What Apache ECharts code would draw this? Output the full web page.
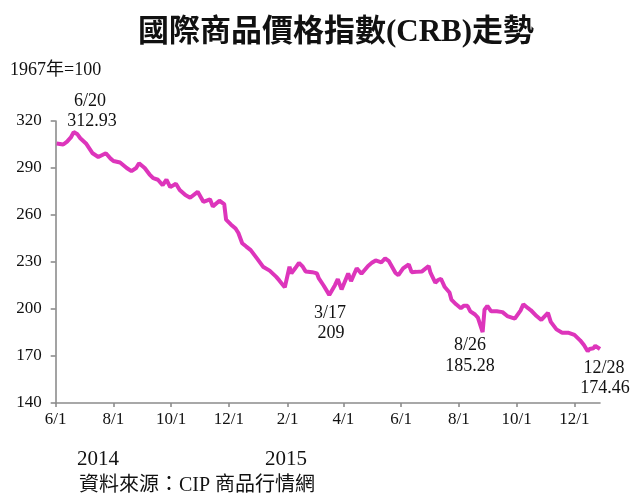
<!DOCTYPE html>
<html>
<head>
<meta charset="utf-8">
<script src="https://cdn.jsdelivr.net/npm/echarts@6/dist/echarts.min.js"></script>
<style>
  html, body { margin: 0; padding: 0; background: #fff; }
  #chart { width: 632px; height: 498px; }
</style>
</head>
<body>
<div id="chart"></div>
<script>
// CRB index (approximate)
const dates = [
  '2014-06-02', '2014-06-09', '2014-06-13', '2014-06-17', '2014-06-20', '2014-06-24',
  '2014-06-27', '2014-07-03', '2014-07-10', '2014-07-16', '2014-07-24', '2014-07-29',
  '2014-08-01', '2014-08-08', '2014-08-15', '2014-08-20', '2014-08-25', '2014-08-28',
  '2014-09-03', '2014-09-08', '2014-09-12', '2014-09-17', '2014-09-22', '2014-09-26',
  '2014-09-30', '2014-10-06', '2014-10-10', '2014-10-16', '2014-10-21', '2014-10-29',
  '2014-11-04', '2014-11-11', '2014-11-14', '2014-11-21', '2014-11-26', '2014-11-28',
  '2014-12-03', '2014-12-08', '2014-12-11', '2014-12-15', '2014-12-19', '2014-12-24',
  '2014-12-31', '2015-01-06', '2015-01-13', '2015-01-20', '2015-01-23', '2015-01-29',
  '2015-02-03', '2015-02-05', '2015-02-09', '2015-02-13', '2015-02-17', '2015-02-20',
  '2015-02-27', '2015-03-04', '2015-03-06', '2015-03-11', '2015-03-17', '2015-03-23',
  '2015-03-26', '2015-03-30', '2015-04-06', '2015-04-09', '2015-04-15', '2015-04-20',
  '2015-04-27', '2015-05-01', '2015-05-05', '2015-05-11', '2015-05-15', '2015-05-19',
  '2015-05-26', '2015-05-29', '2015-06-03', '2015-06-09', '2015-06-12', '2015-06-17',
  '2015-06-23', '2015-06-30', '2015-07-02', '2015-07-07', '2015-07-10', '2015-07-13',
  '2015-07-17', '2015-07-22', '2015-07-24', '2015-07-29', '2015-08-03', '2015-08-06',
  '2015-08-10', '2015-08-13', '2015-08-18', '2015-08-21', '2015-08-26', '2015-08-28',
  '2015-08-31', '2015-09-04', '2015-09-10', '2015-09-16', '2015-09-21', '2015-09-29',
  '2015-10-05', '2015-10-08', '2015-10-13', '2015-10-16', '2015-10-22', '2015-10-27',
  '2015-10-30', '2015-11-03', '2015-11-06', '2015-11-12', '2015-11-18', '2015-11-25',
  '2015-12-01', '2015-12-07', '2015-12-11', '2015-12-15', '2015-12-17', '2015-12-21',
  '2015-12-23', '2015-12-28'
];
const values = [
  305.7, 305.0, 306.8, 309.5, 312.93, 311.5,
  309.0, 305.7, 299.4, 297.0, 299.4, 296.0,
  294.5, 293.5, 290.0, 288.0, 290.0, 293.0,
  290.0, 286.0, 283.5, 282.5, 279.0, 282.5,
  277.8, 280.0, 276.0, 272.7, 271.0, 274.8,
  268.4, 270.0, 265.5, 269.1, 267.0, 257.0,
  254.0, 251.4, 248.5, 242.0, 240.0, 237.6,
  232.0, 227.0, 224.5, 220.5, 218.4, 213.8,
  227.0, 222.7, 226.0, 229.5, 227.0, 224.0,
  223.5, 222.7, 219.5, 215.0, 209.0, 215.2,
  219.0, 212.5, 222.7, 217.8, 226.0, 222.5,
  227.5, 229.5, 231.0, 229.8, 232.3, 230.5,
  223.0, 221.6, 225.9, 228.5, 223.5, 223.7,
  224.0, 227.5, 223.0, 216.8, 218.5, 219.3,
  214.0, 210.5, 206.0, 203.0, 200.5, 202.0,
  202.0, 198.5, 196.5, 194.5, 185.28, 199.5,
  202.0, 198.5, 198.5, 198.0, 195.5, 193.9,
  199.0, 203.0, 200.5, 199.2, 195.5, 193.0,
  195.0, 197.5, 191.8, 187.0, 184.8, 184.8,
  183.5, 180.0, 177.0, 173.0, 174.5, 175.0,
  176.5, 174.46
];

const tickDates = [
  '2014-06-01', '2014-08-01', '2014-10-01', '2014-12-01', '2015-02-01',
  '2015-04-01', '2015-06-01', '2015-08-01', '2015-10-01', '2015-12-01'
];
const tickLabels = ['6/1', '8/1', '10/1', '12/1', '2/1', '4/1', '6/1', '8/1', '10/1', '12/1'];
const yTicks = [140, 170, 200, 230, 260, 290, 320];

// every calendar day on the x axis
const days = [];
const start = Date.UTC(2014, 5, 1);
const end = Date.UTC(2015, 11, 28);
for (let t = start; t <= end; t += 86400000) {
  days.push(new Date(t).toISOString().slice(0, 10));
}

const FONT = "'Liberation Serif', 'Noto Sans CJK TC', serif";
const isTick = (i, v) => tickDates.includes(v);
const txt = (x, y, text, size) => ({
  type: 'text', x, y,
  style: { text, font: `${size}px ${FONT}`, fill: '#111', align: 'center', verticalAlign: 'middle' },
});

const chart = echarts.init(document.getElementById('chart'));
chart.setOption({
  animation: false,
  title: {
    text: '國際商品價格指數(CRB)走勢',
    left: 331,
    top: 12,
    textAlign: 'center',
    textStyle: { fontFamily: FONT, fontSize: 31, fontWeight: 'bold', color: '#111' },
  },
  grid: { left: 55.7, right: 32, top: 121, bottom: 95 },
  xAxis: {
    type: 'category',
    data: days,
    boundaryGap: false,
    axisLine: { lineStyle: { color: '#8c8c8c', width: 1.6 } },
    axisTick: { interval: isTick, length: 4, lineStyle: { color: '#8c8c8c', width: 1.6 } },
    axisLabel: {
      interval: isTick,
      margin: 8,
      formatter: v => tickLabels[tickDates.indexOf(v)],
      fontFamily: FONT,
      fontSize: 17,
      color: '#111',
    },
    splitLine: { show: false },
  },
  yAxis: {
    type: 'value',
    min: yTicks[0],
    max: yTicks[yTicks.length - 1],
    interval: 30,
    axisLine: { show: true, lineStyle: { color: '#8c8c8c', width: 1.6 } },
    axisTick: { show: true, length: 5, lineStyle: { color: '#8c8c8c', width: 1.6 } },
    axisLabel: { margin: 14, fontFamily: FONT, fontSize: 17, color: '#111' },
    splitLine: { show: false },
  },
  series: [
    {
      type: 'line',
      data: dates.map((d, i) => [d, values[i]]),
      symbol: 'none',
      lineStyle: { color: '#dd35bb', width: 4 },
    },
  ],
  graphic: [
    { type: 'text', left: 10, top: 61, style: { text: '1967年=100', font: `18px ${FONT}`, fill: '#111' } },
    txt(90, 101, '6/20', 18),
    txt(92, 121, '312.93', 18),
    txt(330, 313, '3/17', 18),
    txt(331, 333, '209', 18),
    txt(470, 345, '8/26', 18),
    txt(470, 366, '185.28', 18),
    txt(604, 368, '12/28', 18),
    txt(605, 388, '174.46', 18),
    txt(98, 459, '2014', 21),
    txt(286, 459, '2015', 21),
    { type: 'text', left: 79, top: 476, style: { text: '資料來源：CIP 商品行情網', font: `20px ${FONT}`, fill: '#111' } },
  ],
});
</script>
</body>
</html>
